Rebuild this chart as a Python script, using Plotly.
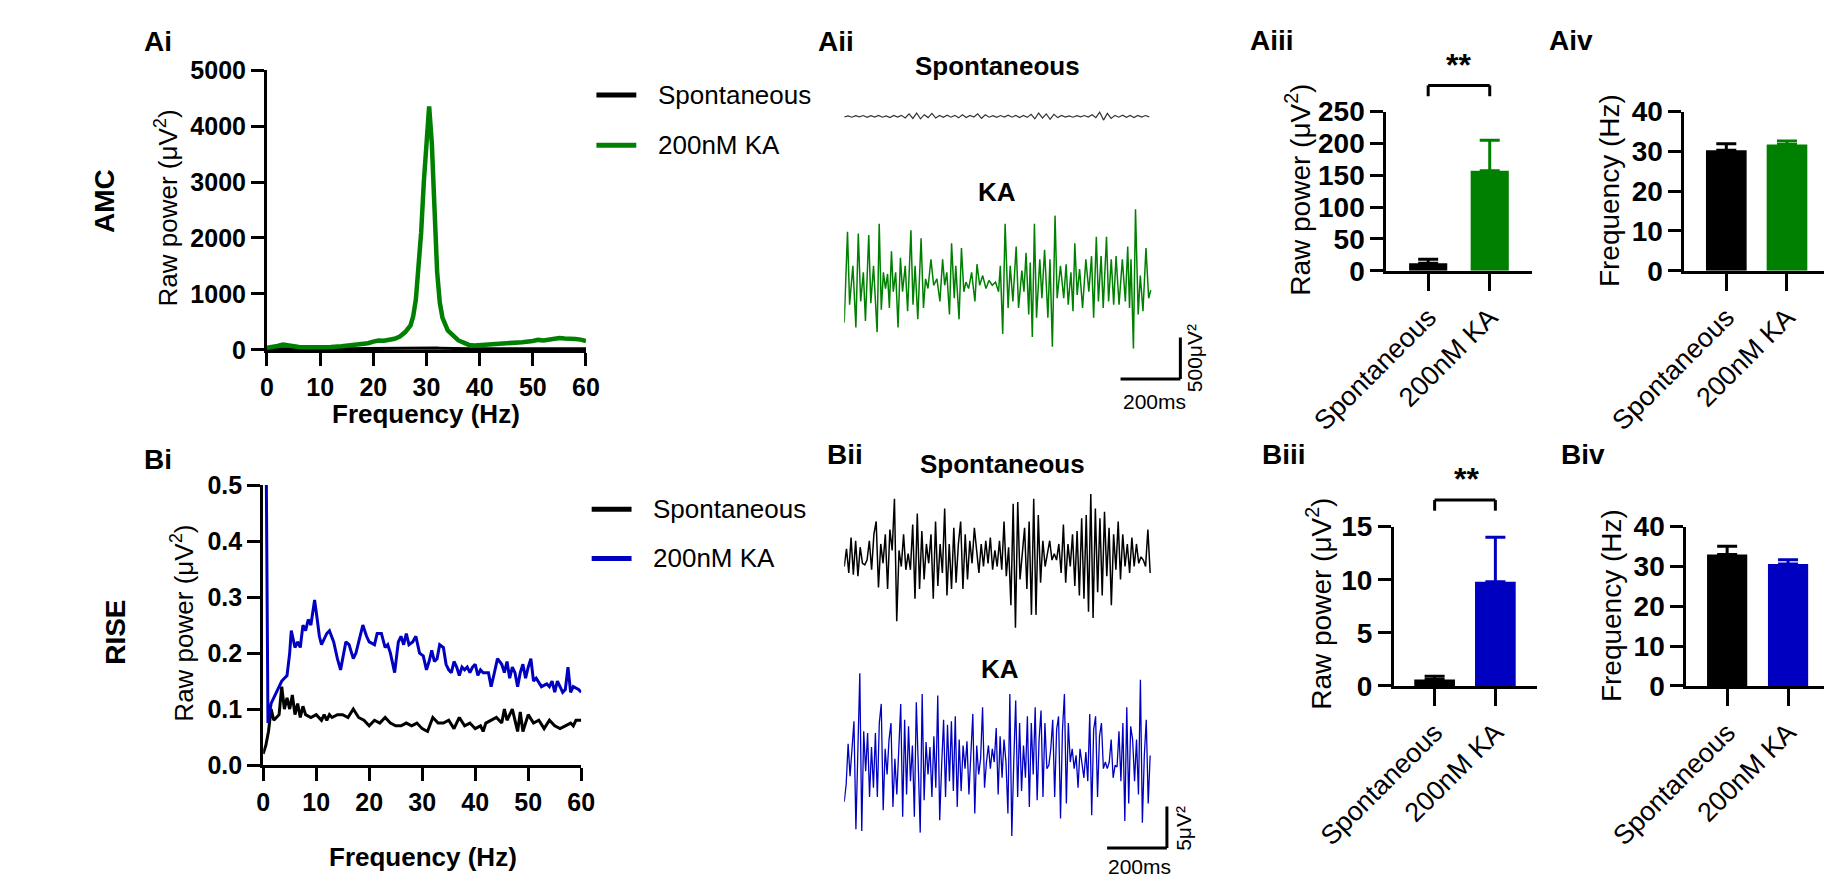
import numpy as np
import plotly.graph_objects as go

W, H = 1838, 894
FONT = "Liberation Sans, Arial, sans-serif"
GREEN = "#008000"
BLUE = "#0000c0"

# ---------------- data ----------------
# Ai: AMC power spectra (Hz, uV^2)
ai_freq = [0, 1, 2, 3, 4, 5, 6, 8, 10, 12, 14, 16, 18, 19, 20, 21, 22, 23, 24, 25, 26, 27, 27.5, 28, 28.5,
           29, 29.5, 30, 30.5, 31, 31.5, 32, 32.5, 33, 34, 35, 36, 37, 38, 39, 40, 42, 44, 46, 48, 50, 51,
           52, 53, 54, 55, 56, 57, 58, 59, 60]
ai_ka = [40, 45, 70, 95, 80, 65, 55, 50, 45, 55, 65, 80, 100, 120, 150, 170, 165, 175, 200, 240, 320, 440,
         600, 900, 1400, 2100, 3000, 3800, 4350, 3700, 2600, 1400, 850, 580, 350, 250, 170, 130, 90, 80, 85,
         95, 105, 115, 140, 160, 180, 170, 185, 210, 215, 205, 210, 195, 185, 160]
ai_spont = [20, 22, 25, 22, 20, 20, 18, 20, 20, 22, 22, 25, 25, 28, 28, 26, 25, 25, 28, 30, 30, 32, 32, 33,
            34, 35, 35, 36, 36, 35, 34, 33, 32, 30, 28, 26, 25, 24, 22, 22, 20, 20, 20, 20, 22, 22, 22, 22,
            20, 20, 20, 20, 20, 20, 20, 20]

# Bi: RISE power spectra (Hz, uV^2)
bi_freq_ka = [0.6, 0.9, 1.5, 2.0, 2.5, 3.0, 3.5, 4.0, 4.5, 5.0, 5.3, 6.0, 6.5, 7.0, 7.5, 8.0, 8.5, 9.0, 9.7,
              10.2, 10.6, 11.0, 12.0, 12.5, 13.3, 14.0, 14.6, 15.2, 15.6, 16.2, 17.0, 17.5, 18.2, 18.8, 19.5,
              20.0, 21.0, 21.5, 22.3, 23.0, 23.5, 24.0, 24.8, 25.5, 26.0, 26.5, 27.0, 27.5, 28.2, 28.8, 29.5,
              30.2, 30.8, 31.3, 31.8, 32.3, 32.8, 33.3, 34.0, 34.5, 35.0, 35.5, 36.0, 36.5, 37.0, 37.5, 38.0,
              38.5, 39.0, 39.5, 40.0, 40.5, 41.0, 41.5, 42.5, 43.0, 43.5, 44.2, 45.0, 45.5, 46.0, 46.5, 47.0,
              47.5, 48.0, 48.5, 49.0, 49.5, 50.0, 50.5, 51.0, 51.5, 52.5, 53.5, 54.0, 54.5, 55.0, 55.5, 56.0,
              56.5, 57.0, 57.5, 58.0, 58.5, 59.5, 60.0]
bi_ka = [0.50, 0.075, 0.11, 0.12, 0.13, 0.14, 0.15, 0.155, 0.16, 0.20, 0.24, 0.21, 0.22, 0.21, 0.25, 0.24,
         0.26, 0.25, 0.295, 0.26, 0.23, 0.215, 0.235, 0.24, 0.22, 0.19, 0.17, 0.20, 0.22, 0.215, 0.19, 0.20,
         0.23, 0.25, 0.23, 0.22, 0.215, 0.235, 0.235, 0.21, 0.215, 0.20, 0.165, 0.22, 0.23, 0.215, 0.235,
         0.215, 0.22, 0.23, 0.20, 0.195, 0.17, 0.185, 0.205, 0.185, 0.19, 0.215, 0.21, 0.18, 0.17, 0.165,
         0.185, 0.175, 0.16, 0.175, 0.17, 0.175, 0.165, 0.175, 0.18, 0.16, 0.17, 0.165, 0.165, 0.14, 0.16,
         0.19, 0.18, 0.165, 0.185, 0.155, 0.175, 0.165, 0.14, 0.165, 0.18, 0.155, 0.175, 0.19, 0.15, 0.155,
         0.14, 0.145, 0.14, 0.15, 0.13, 0.15, 0.14, 0.13, 0.135, 0.175, 0.13, 0.14, 0.135, 0.13]
bi_freq_spont = [0.0, 0.5, 1.0, 1.5, 2.0, 2.5, 3.0, 3.5, 4.0, 4.5, 5.0, 5.5, 6.0, 6.5, 7.0, 7.5, 8.0, 9.0,
                 10.0, 11.0, 11.5, 12.0, 12.5, 13.0, 14.0, 15.0, 16.0, 17.0, 18.0, 19.0, 20.0, 21.0, 22.0,
                 23.0, 24.0, 25.0, 26.0, 27.0, 28.0, 29.0, 30.0, 31.0, 32.0, 33.0, 34.0, 35.0, 36.0, 37.0,
                 38.0, 39.0, 40.0, 41.0, 41.5, 42.0, 43.0, 44.0, 45.0, 45.5, 46.0, 47.0, 48.0, 48.5, 49.0,
                 50.0, 51.0, 52.0, 53.0, 54.0, 55.0, 56.0, 57.0, 58.0, 58.5, 59.0, 60.0]
bi_spont = [0.02, 0.035, 0.06, 0.10, 0.08, 0.085, 0.09, 0.14, 0.10, 0.12, 0.10, 0.125, 0.09, 0.11, 0.085,
            0.105, 0.09, 0.085, 0.09, 0.08, 0.09, 0.08, 0.09, 0.085, 0.09, 0.09, 0.085, 0.10, 0.085, 0.08,
            0.07, 0.08, 0.075, 0.085, 0.075, 0.07, 0.07, 0.075, 0.07, 0.075, 0.065, 0.06, 0.085, 0.075,
            0.075, 0.08, 0.065, 0.085, 0.07, 0.075, 0.065, 0.07, 0.06, 0.075, 0.08, 0.085, 0.075, 0.10,
            0.08, 0.10, 0.06, 0.095, 0.06, 0.09, 0.075, 0.08, 0.065, 0.08, 0.07, 0.065, 0.07, 0.075, 0.07,
            0.08, 0.08]

# Aii: example AMC traces (ms, uV)
aii_spont_uv = [-8, 6, -10, 8, -6, 10, -12, 8, -8, 12, -10, 6, -14, 10, -8, 12,
                -20, 30, -25, 40, -30, 20, -15, 35, -20,
                10, -12, 15, -10, 12, -18, 20, -14, 10, -8,
                30, -25, 18,
                -10, 8, -12, 10, -8, 15, -10, 12, -14, 10, -12,
                25, -30, 40, -20, 30, -35, 25, -15,
                10, -8, 6, -10, 8, -6, 10, -8,
                20, -15, 50, -45, 35, -25,
                12, -10, 15, -12, 10, -14, 12, -8, 10, -6]
aii_ka_ms = [0, 11, 18, 29, 39, 47, 55, 64, 71, 82, 89, 98, 110, 117, 124, 131, 138, 145, 151, 158,
             164, 172, 180, 188, 195, 204, 212, 223, 230, 237, 246, 257, 265, 272, 280, 290, 299, 310, 320, 329,
             336, 343, 352, 359, 368, 373, 384, 392, 400, 407, 416, 426, 437, 444, 453, 463, 474, 484, 495, 506,
             516, 522, 530, 538, 548, 555, 564, 575, 583, 594, 601, 608, 617, 622, 629, 636, 643, 654, 661, 670,
             681, 688, 696, 705, 712, 723, 734, 742, 749, 758, 765, 771, 779, 787, 797, 808, 818, 827, 834, 843,
             850, 859, 866, 877, 884, 893, 901, 909, 919, 930, 940, 948, 954, 959, 967, 974, 983, 990, 999, 1009,
             1018, 1025]
aii_ka_uv = [-449, 644, -234, 234, -507, 624, -195, 156, -429, 605, -215, 234, -566, 741, -293, 156, -39, 137, -273, 410,
             -78, 156, -507, 332, -78, 234, -312, 663, -234, 234, -410, 566, -273, 78, -39, 312, 0, 78, -195, 312,
             0, 156, -351, 507, -156, 234, -410, 449, -78, 39, -39, 156, -195, 254, 0, 117, -39, 59, 0, 39,
             -78, 234, -585, 741, -273, 234, -195, 468, -273, 176, -78, 390, -351, 273, -624, 741, -390, 312, -156, 429,
             -390, 312, -741, 839, -156, 234, -156, 254, -234, 156, -312, 507, -117, 195, -273, 312, -78, 351, -390, 585,
             -195, 351, -273, 585, -195, 312, -234, 351, -234, 312, -195, 468, -273, 312, -761, 917, -351, 117, -312, 449,
             -156, -59]

# Bii: example RISE traces (uV)
bii_spont_uv = [-0.39, 1.75, -1.16, 3.10, -1.36, 2.72, -1.55, 1.94, 0, -0.19, 0.39, 2.72, -0.78, 3.49, 5.04,
                -2.91, 2.33, 0, 3.49, -3.10, 4.07, 1.55, 7.76, -6.98, 1.55, -0.39, 3.49, -0.78, 1.16, -0.78,
                4.66, -4.27, 6.01, -3.10, 3.88, -1.94, 2.33, 0, 3.49, -4.27, 5.04, -2.72, 2.33, -1.16, 6.60,
                -3.88, 2.33, -3.10, 4.27, -2.33, 2.33, 5.04, -3.10, 3.49, -1.94, 2.72, 0, 4.27, 1.55, -1.16,
                2.33, -0.39, 2.72, 0, 3.10, -0.78, 1.55, -0.39, 2.72, -0.78, 5.04, -1.55, 1.94, -5.04, 7.18,
                -7.76, 7.37, -1.94, 1.16, 4.27, -3.10, 5.04, -6.21, 7.76, -6.21, 5.82, -2.33, 2.72, -0.39, 1.16,
                2.72, 0.39, 1.16, 0.39, 2.33, -1.16, 4.66, -2.33, 2.33, -0.39, 3.49, -2.72, 3.88, -3.88, 5.43,
                -4.27, 5.82, -5.82, 8.34, -6.60, 6.60, -3.49, 5.43, -3.88, 6.21, -1.55, 4.27, -5.04, 3.49, -0.78,
                5.04, -1.94, 3.49, -0.39, 2.33, -1.16, 3.10, -0.39, 2.33, 0, 0.78, 0.39, -0.39, 4.07, -1.16]
bii_ka_uv = [-5.6, -3.5, 1.4, -2.5, 0.8, 4.1, -8.9, 0.2, 9.9, -9.1, 2.9, -1.9, 2.7, -5.0, 1.0, -3.9, 2.7, -5.0,
             3.9, 6.2, -6.6, 0.8, -2.3, 1.9, 3.9, -6.2, -0.4, -4.7, 1.9, 6.2, -7.4, 4.3, -4.7, 3.5, -3.1, 1.2,
             -7.4, 6.4, -1.2, -9.3, 7.4, -5.4, 1.6, -2.3, 1.0, -5.0, 2.3, -3.9, 7.2, -7.8, -1.2, 4.3, -5.0, 3.7,
             -3.1, 4.1, -4.3, 4.7, -6.2, 1.9, -4.3, 1.2, -1.6, 1.7, -4.7, 0.8, 5.0, -7.0, 1.2, -2.3, -0.4, 5.8,
             -3.9, -0.8, 1.2, -1.6, 0.8, -0.8, 3.3, -4.7, 2.3, -2.7, 1.9, -0.8, -7.0, 7.4, -9.7, -0.8, 6.6, -5.0,
             3.9, -4.3, 1.2, -2.7, 4.7, -6.2, 3.9, -2.3, 5.8, -5.4, 1.9, 5.4, -5.0, 3.9, -1.6, -1.2, 0.8, 4.3,
             -5.0, 3.1, 4.7, -7.6, 3.1, 7.4, -5.8, 3.9, -0.8, 0.8, -1.6, 0, -3.9, 0.8, -0.8, -2.7, 0.4, -3.1,
             5.0, -7.2, 3.1, 4.7, -5.0, 2.3, 3.9, -1.6, -0.8, -1.6, -0.8, 1.9, -2.7, -1.2, -1.4, 2.9, -3.1, 3.9,
             -7.9, 5.8, -5.8, 3.5, 1.9, -3.1, 1.9, -4.7, 9.1, -8.1, 0, 4.3, -5.8, 0]
trace_duration_ms = 1023

# Bar summaries (mean, SEM)
groups = ["Spontaneous", "200nM KA"]
aiii_mean = [12, 157]
aiii_sem = [6, 48]
aiv_mean = [30.3, 31.7]
aiv_sem = [1.6, 0.9]
biii_mean = [0.6, 9.8]
biii_sem = [0.3, 4.2]
biv_mean = [33.0, 30.6]
biv_sem = [2.1, 1.1]

# ---------------- helpers ----------------
def xd(a, b):
    return [a / W, min(b / W, 1.0)]

def yd(top, bottom):
    return [1 - bottom / H, 1 - top / H]

def px(x, y):
    return x / W, 1 - y / H

def font(size, bold=False, color="black"):
    return dict(family=FONT, size=size, color=color, weight="bold" if bold else "normal")

annotations = []
shapes = []

def txt(x, y, s, size, bold=False, angle=0, xanchor="center", yanchor="middle"):
    fx, fy = px(x, y)
    annotations.append(dict(x=fx, y=fy, xref="paper", yref="paper", text=s, showarrow=False,
                            font=font(size, bold), textangle=angle, xanchor=xanchor, yanchor=yanchor))

def pline(x0, y0, x1, y1, color="black", width=3):
    a, b = px(x0, y0)
    c, d = px(x1, y1)
    shapes.append(dict(type="line", xref="paper", yref="paper", x0=a, y0=b, x1=c, y1=d,
                       line=dict(color=color, width=width)))

AX = dict(showline=True, linecolor="black", linewidth=3, ticks="outside", tickcolor="black",
          tickwidth=3, showgrid=False, zeroline=False, fixedrange=True)

fig = go.Figure()
layout = {}

# ---------------- Ai / Bi spectra ----------------
def spectrum_axes(n, xdom, ydom, ymax, dtick, fmt):
    sx = "" if n == 1 else str(n)
    layout["xaxis" + sx] = dict(domain=xdom, anchor="y" + sx, range=[0, 60], dtick=10, tick0=0,
                                ticklen=13, tickfont=font(25, True), **AX)
    layout["yaxis" + sx] = dict(domain=ydom, anchor="x" + sx, range=[0, ymax], dtick=dtick, tick0=0,
                                ticklen=13, tickformat=fmt, tickfont=font(25, True), **AX)

spectrum_axes(1, xd(198, 534), yd(57, 347), 5000, 1000, "d")
spectrum_axes(2, xd(194, 529), yd(487, 777), 0.5, 0.1, ".1f")

fig.add_trace(go.Scatter(x=ai_freq, y=ai_spont, mode="lines", line=dict(color="black", width=3),
                         xaxis="x", yaxis="y", showlegend=False))
fig.add_trace(go.Scatter(x=ai_freq, y=ai_ka, mode="lines", line=dict(color=GREEN, width=4.5),
                         xaxis="x", yaxis="y", showlegend=False))
fig.add_trace(go.Scatter(x=bi_freq_spont, y=bi_spont, mode="lines", line=dict(color="black", width=3),
                         xaxis="x2", yaxis="y2", showlegend=False))
fig.add_trace(go.Scatter(x=bi_freq_ka, y=bi_ka, mode="lines", line=dict(color=BLUE, width=3),
                         xaxis="x2", yaxis="y2", showlegend=False))

# ---------------- Aii / Bii example traces ----------------
MS_PER_PX = 200 / 63
TR_X0, TR_X1 = 806, 1170
UVPX_A = 500 / 43
UVPX_B = 5 / 43

def trace_axes(n, top, bottom, base, scale):
    sx = str(n)
    layout["xaxis" + sx] = dict(domain=xd(TR_X0, TR_X1), anchor="y" + sx,
                                range=[0, (TR_X1 - TR_X0) * MS_PER_PX], visible=False, fixedrange=True)
    layout["yaxis" + sx] = dict(domain=yd(top, bottom), anchor="x" + sx,
                                range=[-(bottom - base) * scale, (base - top) * scale], visible=False,
                                fixedrange=True)

trace_axes(3, 85, 125, 105, UVPX_A)
trace_axes(4, 190, 390, 280, UVPX_A)
trace_axes(5, 490, 645, 568, UVPX_B)
trace_axes(6, 672, 870, 767, UVPX_B)

fig.add_trace(go.Scatter(x=np.linspace(0, 1020, len(aii_spont_uv)), y=aii_spont_uv, mode="lines",
                         line=dict(color="#333333", width=1.2), xaxis="x3", yaxis="y3", showlegend=False))
fig.add_trace(go.Scatter(x=aii_ka_ms, y=aii_ka_uv, mode="lines", line=dict(color=GREEN, width=1.5),
                         xaxis="x4", yaxis="y4", showlegend=False))
fig.add_trace(go.Scatter(x=np.linspace(0, trace_duration_ms, len(bii_spont_uv)), y=bii_spont_uv, mode="lines",
                         line=dict(color="black", width=1.5), xaxis="x5", yaxis="y5", showlegend=False))
fig.add_trace(go.Scatter(x=np.linspace(0, trace_duration_ms, len(bii_ka_uv)), y=bii_ka_uv, mode="lines",
                         line=dict(color=BLUE, width=1.3), xaxis="x6", yaxis="y6", showlegend=False))

# scale bars (data units of the KA trace axes)
def scale_bar(n, t_end, v_base, len_ms, len_uv):
    sx = str(n)
    shapes.append(dict(type="line", xref="x" + sx, yref="y" + sx, x0=t_end - len_ms, x1=t_end,
                       y0=v_base, y1=v_base, line=dict(color="black", width=3)))
    shapes.append(dict(type="line", xref="x" + sx, yref="y" + sx, x0=t_end, x1=t_end,
                       y0=v_base, y1=v_base + len_uv, line=dict(color="black", width=3)))

scale_bar(4, 1124, -1128, 200, 500)
scale_bar(6, 1079, -11.16, 200, 5)

# ---------------- bar panels ----------------
def bar_panel(n, xdom, ydom, xr, ymax, dtick, means, sems, colors, width):
    sx = str(n)
    layout["xaxis" + sx] = dict(domain=xdom, anchor="y" + sx, type="category", categoryorder="array",
                                categoryarray=groups, range=xr, tickangle=-45, ticklen=17,
                                tickfont=font(27), **AX)
    layout["yaxis" + sx] = dict(domain=ydom, anchor="x" + sx, range=[0, ymax], dtick=dtick, tick0=0,
                                ticklen=13, tickfont=font(28, True), **AX)
    for g, m, s, c in zip(groups, means, sems, colors):
        fig.add_trace(go.Bar(x=[g], y=[m], width=width, marker=dict(color=c, line=dict(width=0)),
                             error_y=dict(type="data", array=[s], arrayminus=[0], symmetric=False,
                                          color=c, thickness=3, width=10),
                             xaxis="x" + sx, yaxis="y" + sx, showlegend=False))

bar_panel(7, xd(1377, 1530), yd(100, 265), [-0.68, 1.68], 250, 50, aiii_mean, aiii_sem, ["black", GREEN], 0.62)
bar_panel(8, xd(1691, 1838), yd(100, 265), [-0.69, 1.61], 40, 10, aiv_mean, aiv_sem, ["black", GREEN], 0.67)
bar_panel(9, xd(1385, 1536), yd(530, 695), [-0.67, 1.69], 15, 5, biii_mean, biii_sem, ["black", BLUE], 0.67)
bar_panel(10, xd(1693, 1838), yd(530, 695), [-0.67, 1.59], 40, 10, biv_mean, biv_sem, ["black", BLUE], 0.66)

# significance brackets (category 0 -> 1), heights in data units
def bracket(n, xr, ymax, y_leg, y_top):
    sx = str(n)
    f0 = (0 - xr[0]) / (xr[1] - xr[0])
    f1 = (1 - xr[0]) / (xr[1] - xr[0])
    yl, yt = y_leg / ymax, y_top / ymax
    for (a, b, c, d) in [(f0, yl, f0, yt), (f0, yt, f1, yt), (f1, yt, f1, yl)]:
        shapes.append(dict(type="line", xref="x" + sx + " domain", yref="y" + sx + " domain",
                           x0=a, y0=b, x1=c, y1=d, line=dict(color="black", width=3)))

bracket(7, [-0.68, 1.68], 250, 274, 291)
bracket(9, [-0.67, 1.69], 15, 16.5, 17.5)

layout["barmode"] = "overlay"

# ---------------- text ----------------
for (x, y, s) in [(83, 27, "Ai"), (797, 27, "Aii"), (1257, 26, "Aiii"), (1571, 26, "Aiv"),
                  (83, 460, "Bi"), (807, 455, "Bii"), (1269, 455, "Biii"), (1584, 455, "Biv")]:
    txt(x, y, s, 28, bold=True)

txt(27, 193, "AMC", 28, bold=True, angle=-90)
txt(39, 640, "RISE", 28, bold=True, angle=-90)

txt(92, 200, "Raw power (μV<sup>2</sup>)", 26, angle=-90)
txt(366, 413, "Frequency (Hz)", 26, bold=True)
txt(109, 630, "Raw power (μV<sup>2</sup>)", 26, angle=-90)
txt(362, 872, "Frequency (Hz)", 26, bold=True)

# legends
for (lx0, lx1, tx, ys, cols) in [(545, 587, 608, (83, 135), ("black", GREEN)),
                                 (540, 582, 603, (512, 563), ("black", BLUE))]:
    for yy, cc, lab in zip(ys, cols, groups):
        pline(lx0, yy, lx1, yy, color=cc, width=5)
        txt(tx, yy, lab, 26, xanchor="left")

# trace titles
txt(967, 53, "Spontaneous", 26, bold=True)
txt(967, 183, "KA", 26, bold=True)
txt(973, 465, "Spontaneous", 26, bold=True)
txt(970, 678, "KA", 26, bold=True)

# scale bar labels
txt(1133, 400, "200ms", 21)
txt(1175, 356, "500μV²", 21, angle=-90)
txt(1117, 882, "200ms", 21)
txt(1164, 843, "5μV²", 21, angle=-90)

# bar panel titles
txt(1284, 181, "Raw power (μV<sup>2</sup>)", 28, angle=-90)
txt(1612, 182, "Frequency (Hz)", 28, angle=-90)
txt(1306, 610, "Raw power (μV<sup>2</sup>)", 28, angle=-90)
txt(1614, 612, "Frequency (Hz)", 28, angle=-90)
txt(1453, 52, "**", 32, bold=True)
txt(1461, 481, "**", 32, bold=True)

layout.update(dict(width=W, height=H, margin=dict(l=0, r=0, t=0, b=0), paper_bgcolor="white",
                   plot_bgcolor="white", showlegend=False, annotations=annotations, shapes=shapes,
                   font=dict(family=FONT, color="black")))
fig.update_layout(**layout)
fig.write_html("out.html", config={"displayModeBar": False},
               post_script="document.body.style.margin='0px';document.body.style.overflow='hidden';")
